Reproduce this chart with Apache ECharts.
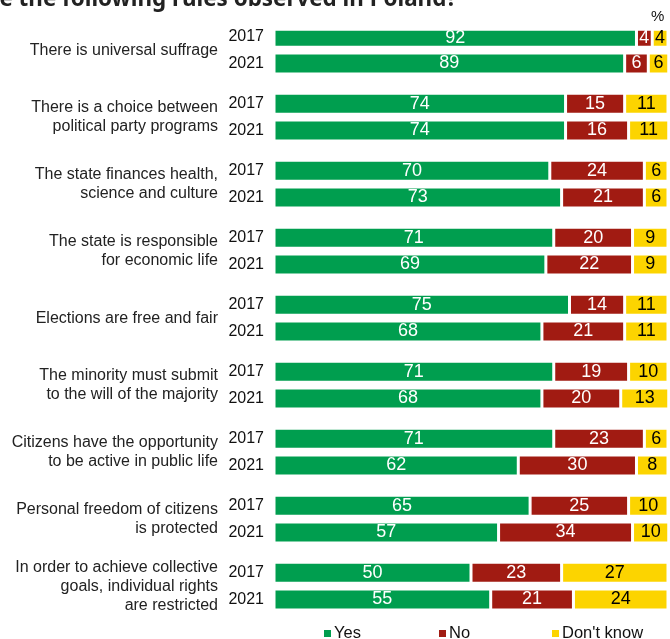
<!DOCTYPE html>
<html><head><meta charset="utf-8">
<script src="https://cdn.jsdelivr.net/npm/echarts@6/dist/echarts.min.js"></script>
<style>html,body{margin:0;padding:0;background:#fff}#c{width:670px;height:639px}</style>
</head><body><div id="c"></div>
<script>
const categories = [
  "There is universal suffrage",
  "There is a choice between\npolitical party programs",
  "The state finances health,\nscience and culture",
  "The state is responsible\nfor economic life",
  "Elections are free and fair",
  "The minority must submit\nto the will of the majority",
  "Citizens have the opportunity\nto be active in public life",
  "Personal freedom of citizens\nis protected",
  "In order to achieve collective\ngoals, individual rights\nare restricted"
];
const years = ["2017", "2021"];
// per category: [2017, 2021]
const yesValues = [[92,89],[74,74],[70,73],[71,69],[75,68],[71,68],[71,62],[65,57],[50,55]];
const noValues = [[4,6],[15,16],[24,21],[20,22],[14,21],[19,20],[23,30],[25,34],[23,21]];
const dkValues = [[4,6],[11,11],[6,6],[9,9],[11,11],[10,13],[6,8],[10,10],[27,24]];
const seriesNames = ["Yes", "No", "Don't know"];
const colors = ["#009e4f", "#a11b12", "#fcd400"];

// 5 slots per category: 2017, gap, 2021, gap, gap
const SLOTS = 5;
const yearSlots = [0, 2];
const yearAxis = [], catAxis = [];
categories.forEach((c, i) => {
  for (let s = 0; s < SLOTS; s++) {
    const yi = yearSlots.indexOf(s);
    yearAxis.push(yi >= 0 ? years[yi] : "");
    catAxis.push(s === 1 ? c : "");
  }
});
function expand(vals) {
  const out = [];
  vals.forEach(pair => {
    for (let s = 0; s < SLOTS; s++) {
      const yi = yearSlots.indexOf(s);
      out.push(yi >= 0 ? pair[yi] : '-');
    }
  });
  return out;
}
const allVals = [yesValues, noValues, dkValues];
const legendLeft = [322, 437, 550];

const chart = echarts.init(document.getElementById('c'), null, {renderer: 'canvas'});
chart.setOption({
  animation: false,
  color: colors,
  textStyle: {fontFamily: 'Liberation Sans, Arial, sans-serif'},
  grid: {left: 274, right: 2, top: 30, bottom: 6},
  xAxis: {type: 'value', min: 0, max: 100, show: false},
  yAxis: [
    {type: 'category', data: yearAxis, inverse: true,
     axisLine: {show: false}, axisTick: {show: false},
     axisLabel: {interval: 0, margin: 10, color: '#111', fontSize: 16, fontFamily: 'Liberation Sans'}},
    {type: 'category', data: catAxis, inverse: true, position: 'left',
     axisLine: {show: false}, axisTick: {show: false},
     axisLabel: {interval: 0, margin: 56, color: '#222', fontSize: 16, lineHeight: 19, align: 'right', fontFamily: 'Liberation Sans',
       formatter: v => v ? v.split('\n').map(l => '{r|' + l + '}').join('\n') : '',
       rich: {r: {align: 'right', fontSize: 16, lineHeight: 19, color: '#222', fontFamily: 'Liberation Sans'}}}}
  ],
  legend: seriesNames.map((n, k) => ({
    left: legendLeft[k], top: 625, padding: 0, itemWidth: 9, itemHeight: 9, itemGap: 0, icon: 'rect',
    textStyle: {fontSize: 16.5, color: '#111', padding: [0,0,0,-3], fontFamily: 'Liberation Sans'},
    data: [n]
  })),
  series: seriesNames.map((n, k) => ({
    name: n, type: 'bar', stack: 'total', yAxisIndex: 0,
    barWidth: 21,
    itemStyle: {color: colors[k], borderColor: '#fff', borderWidth: 1.5},
    label: {show: true, position: 'inside', fontSize: 18, color: k === 2 ? '#000' : '#fff', fontFamily: 'Liberation Sans'},
    data: expand(allVals[k])
  })),
  graphic: [
    {type: 'text', right: 670 - 457, top: -11,
     style: {text: 'Are the following rules observed in Poland?', font: 'bold 22.4px "Noto Sans"', fill: '#222', textAlign: 'right'}},
    {type: 'text', left: 651, top: 9,
     style: {text: '%', font: '15px "Liberation Sans"', fill: '#111'}}
  ]
});
</script></body></html>
